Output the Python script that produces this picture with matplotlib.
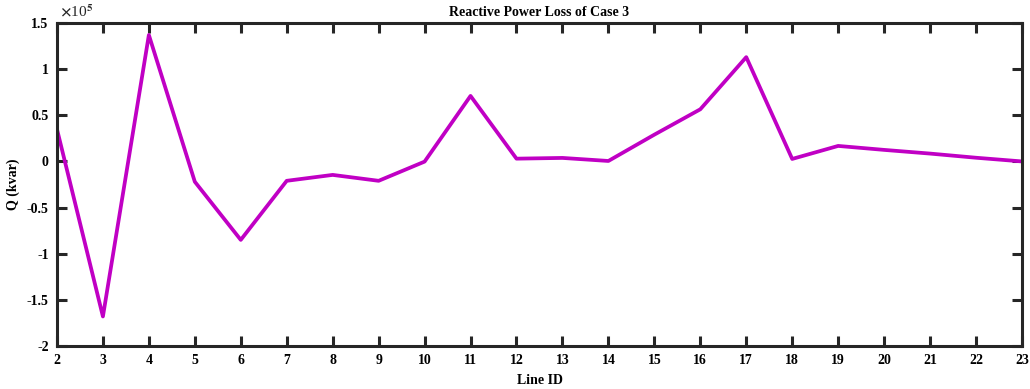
import matplotlib
matplotlib.use('Agg')
import matplotlib.pyplot as plt
import matplotlib.ticker as ticker

# reactive power loss per line (kvar)
line_ids = list(range(2, 24))
q_loss = [35000, -168000, 137000, -22000, -85000, -21000, -14600, -21000,
          -200, 71000, 3000, 3800, 500, 29000, 56500, 113000, 2700, 16800,
          12500, 8500, 4000, 0]

plt.rcParams['font.family'] = ['Liberation Serif', 'DejaVu Serif']
plt.rcParams['font.weight'] = 'bold'
plt.rcParams['mathtext.fontset'] = 'stix'

fig = plt.figure(figsize=(10.3, 3.89), dpi=100)
ax = fig.add_axes([0.0553, 0.1105, 0.9369, 0.8304])

ax.plot(line_ids, q_loss, color='#C000C4', linewidth=2.7)

ax.set_xlim(2, 23)
ax.set_ylim(-2e5, 1.5e5)
ax.set_xticks(line_ids)
ax.set_yticks([-2e5, -1.5e5, -1e5, -0.5e5, 0, 0.5e5, 1e5, 1.5e5])
ax.yaxis.set_major_formatter(ticker.FuncFormatter(lambda v, p: f'{v / 1e5:g}'))

edge = '#262626'
for s in ax.spines.values():
    s.set_linewidth(2.2)
    s.set_color(edge)
ax.tick_params(direction='in', length=7, width=2.2, color=edge,
               top=True, right=True, labelsize=10, pad=6)
for lab in ax.get_xticklabels() + ax.get_yticklabels():
    lab.set_fontweight('bold')

# exponent marker above the y axis
ax.text(0.003, 1.01, r'$\times\mathregular{10}^{5}$', transform=ax.transAxes,
        fontsize=11, fontweight='normal', ha='left', va='bottom', color=edge)
ax.set_title('Reactive Power Loss of Case 3', fontsize=10, fontweight='bold', pad=5)
ax.set_xlabel('Line ID', fontsize=10, fontweight='bold', labelpad=5)
ax.set_ylabel('Q (kvar)', fontsize=10, fontweight='bold', labelpad=5)

fig.savefig('out.png', dpi=100)
